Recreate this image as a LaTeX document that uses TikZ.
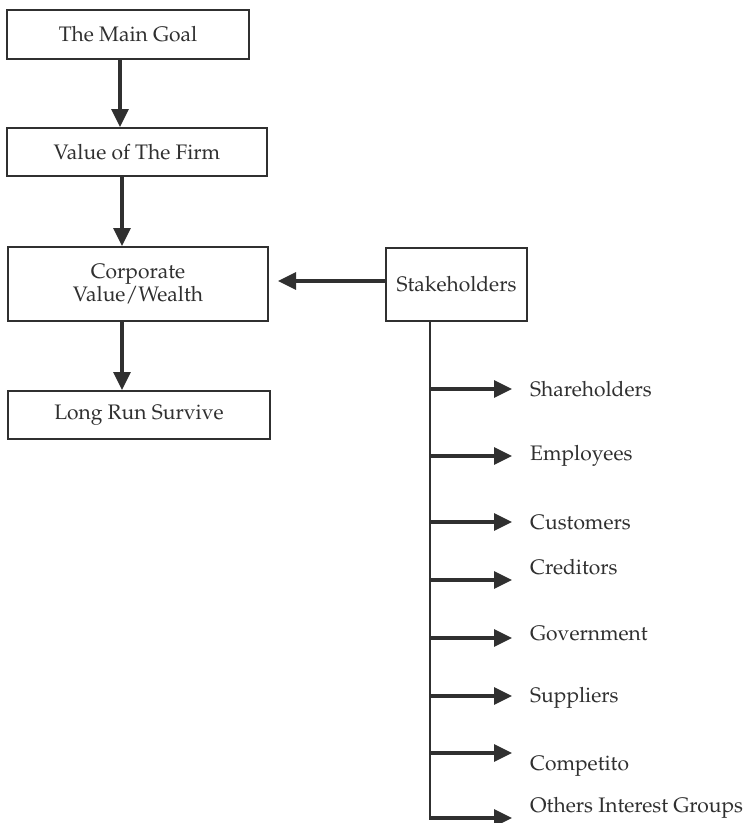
\documentclass[tikz,border=0pt]{standalone}
\usepackage[T1]{fontenc}
\usepackage{mathpazo}
\usetikzlibrary{arrows.meta}
\definecolor{ink}{HTML}{303030}
\begin{document}
\begin{tikzpicture}[x=1pt,y=-1pt,
  box/.style={draw=ink,line width=2pt,rectangle,inner sep=0pt,align=center,text=ink,font=\fontsize{21}{25}\selectfont},
  lbl/.style={anchor=west,inner sep=0pt,text=ink,font=\fontsize{21}{25}\selectfont},
  arr/.style={draw=ink,line width=3.2pt,-{Triangle[length=18pt,width=17pt]}},
  trunkline/.style={draw=ink,line width=2.8pt}]
\path[use as bounding box,fill=white] (0,0) rectangle (754,823);
\node[box,minimum width=242pt,minimum height=49pt] (main) at (128,34.5) {The Main Goal};
\node[box,minimum width=260pt,minimum height=48pt] (value) at (137,152) {Value of The Firm};
\node[box,minimum width=260pt,minimum height=74pt] (corp) at (138,284) {Corporate\\[-2pt]Value/Wealth};
\node[box,minimum width=262pt,minimum height=48pt] (long) at (139,415) {Long Run Survive};
\node[box,minimum width=141pt,minimum height=73pt] (stake) at (456.5,284.5) {Stakeholders};
\coordinate (x1) at (120,0);
\coordinate (x2) at (122,0);
\draw[arr] (main.south -| x1) -- (value.north -| x1);
\draw[arr] (value.south -| x2) -- (corp.north -| x2);
\draw[arr] (corp.south -| x2) -- (long.north -| x2);
\coordinate (ct) at (278,281);
\draw[arr] (stake.west |- ct) -- (ct);
\coordinate (trunk) at (430,0);
\coordinate (tend) at (430,820);
\draw[trunkline] (stake.south -| trunk) -- (tend);
\foreach \n/\ya/\yt/\t in {1/389/389/Shareholders,2/456/456/Employees,3/522/522/Customers,4/580/567/Creditors,5/638/633/Government,6/696/698/Suppliers,7/753/766/Competito,8/818/808/Others Interest Groups}{
  \coordinate (tip\n) at (512,\ya);
  \draw[arr] (tip\n -| trunk) -- (tip\n);
  \node[lbl] (l\n) at (530,\yt) {\t};
}
\end{tikzpicture}
\end{document}
